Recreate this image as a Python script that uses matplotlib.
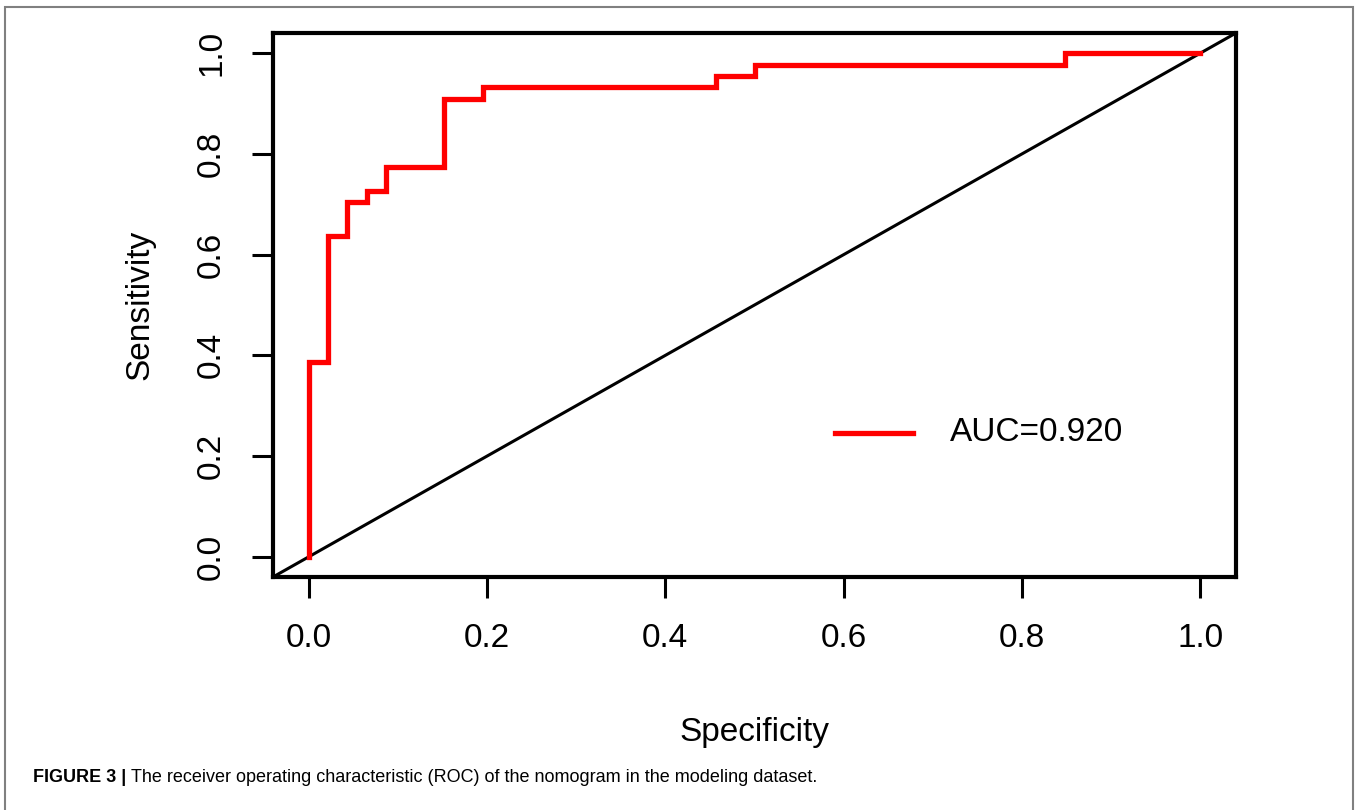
import matplotlib
matplotlib.use('Agg')
import matplotlib.pyplot as plt
from matplotlib.patches import Rectangle

plt.rcParams['font.family'] = ['Liberation Sans', 'DejaVu Sans']

# ROC step curve (x axis labelled "Specificity" as in the original)
spec = [0.0, 0.0, 0.0217, 0.0217, 0.0435, 0.0435, 0.0652, 0.0652, 0.087, 0.087,
        0.152, 0.152, 0.196, 0.196, 0.457, 0.457, 0.5, 0.5, 0.848, 0.848, 1.0]
sens = [0.0, 0.386, 0.386, 0.636, 0.636, 0.705, 0.705, 0.727, 0.727, 0.773,
        0.773, 0.909, 0.909, 0.932, 0.932, 0.955, 0.955, 0.977, 0.977, 1.0, 1.0]
ticks = [0.0, 0.2, 0.4, 0.6, 0.8, 1.0]
tick_labels = ['0.0', '0.2', '0.4', '0.6', '0.8', '1.0']
auc_label = 'AUC=0.920'
caption_head = 'FIGURE 3 |'
caption_body = 'The receiver operating characteristic (ROC) of the nomogram in the modeling dataset.'

W, H = 1359, 810
fig = plt.figure(figsize=(W / 100, H / 100), dpi=100)
ax = fig.add_axes([273 / W, 1 - 577 / H, (1236 - 273) / W, (577 - 33) / H])

ax.set_xlim(-0.04, 1.04)
ax.set_ylim(-0.04, 1.04)
ax.plot([-0.04, 1.04], [-0.04, 1.04], color='black', lw=2.2, solid_capstyle='butt')
ax.plot(spec, sens, color='#ff0000', lw=3.8, solid_joinstyle='miter')

# legend drawn like R's legend()
ax.plot([0.59, 0.678], [0.246, 0.246], color='#ff0000', lw=3.8)
ax.text(0.719, 0.246, auc_label, fontsize=24, va='center', ha='left')

ax.set_xticks(ticks)
ax.set_xticklabels(tick_labels)
ax.set_yticks(ticks)
ax.set_yticklabels(tick_labels, rotation=90, va='center')
ax.tick_params(direction='out', length=15, width=2.2, labelsize=24, pad=18)
for s in ax.spines.values():
    s.set_linewidth(3)

fig.text(140 / W, 1 - 305 / H, 'Sensitivity', fontsize=24, rotation=90,
         ha='center', va='center')
fig.text((273 + 1236) / 2 / W, 1 - 733 / H, 'Specificity', fontsize=24,
         ha='center', va='center')

# figure caption: bold head, then the body right after it
head = fig.text(33 / W, 1 - 778 / H, caption_head, fontsize=13,
                fontweight='bold', ha='left', va='center')
r = fig.canvas.get_renderer()
bb = head.get_window_extent(renderer=r)
fig.text((bb.x1 + 5) / W, 1 - 778 / H, caption_body, fontsize=13,
         ha='left', va='center')

# outer frame
fig.patches.append(Rectangle((5 / W, -0.02), (1353 - 5) / W, 1.02 - 7 / H,
                             transform=fig.transFigure, fill=False,
                             edgecolor='#808080', lw=1.5))

fig.savefig('out.png', dpi=100)
